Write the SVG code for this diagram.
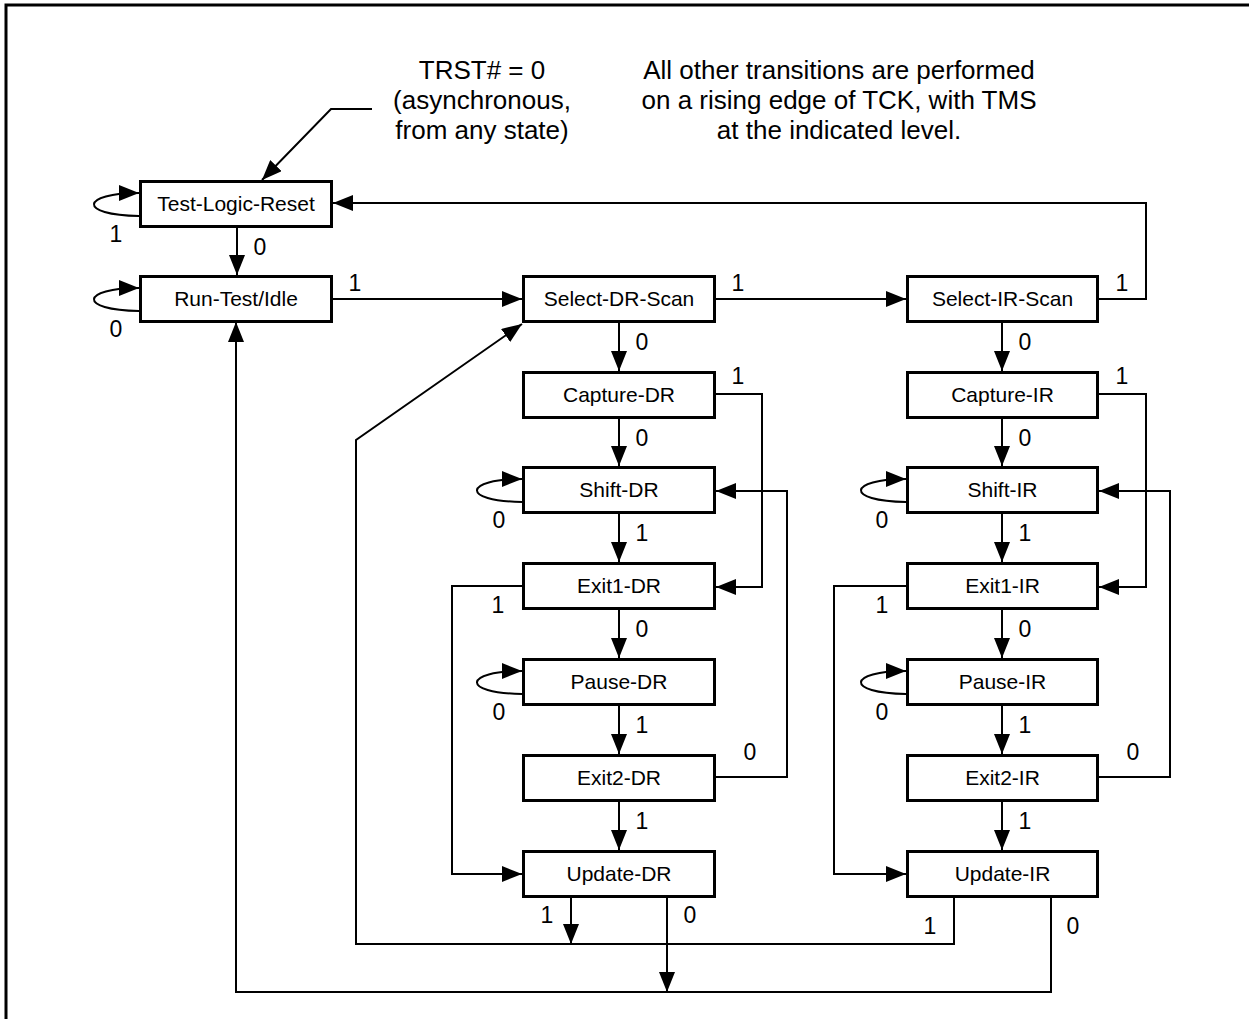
<svg xmlns="http://www.w3.org/2000/svg" width="1249" height="1019" viewBox="0 0 1249 1019">
<style>
.box{fill:#fff;stroke:#000;stroke-width:3}
.bt{font-family:"Liberation Sans",Arial,sans-serif;font-size:21px;text-anchor:middle;fill:#000}
.lb{font-family:"Liberation Sans",Arial,sans-serif;font-size:23px;text-anchor:middle;fill:#000}
.an{font-family:"Liberation Sans",Arial,sans-serif;font-size:26px;text-anchor:middle;fill:#000}
.c{fill:none;stroke:#000;stroke-width:2}
.a{marker-end:url(#ah)}
</style>
<defs>
<marker id="ah" markerUnits="userSpaceOnUse" markerWidth="20" markerHeight="16" refX="20" refY="8" orient="auto">
<path d="M0,0 L20,8 L0,16 Z" fill="#000"/>
</marker>
</defs>
<rect width="1249" height="1019" fill="#fff"/>
<path d="M6,1019 L6,5 L1249,5" fill="none" stroke="#000" stroke-width="3"/>

<g id="annotations">
<text class="an" x="482" y="79">TRST# = 0</text>
<text class="an" x="482" y="109">(asynchronous,</text>
<text class="an" x="482" y="139">from any state)</text>
<text class="an" x="839" y="79">All other transitions are performed</text>
<text class="an" x="839" y="109">on a rising edge of TCK, with TMS</text>
<text class="an" x="839" y="139">at the indicated level.</text>
</g>

<g id="connectors">
<path class="c a" d="M372,109 L331,109 L262,180"/>
<!-- self loops -->
<path class="c a" d="M139,216 C77,215 81,193 139,193"/>
<path class="c a" d="M139,311 C77,310 81,288 139,288"/>
<path class="c a" d="M522,502 C460,501 464,479 522,479"/>
<path class="c a" d="M522,694 C460,693 464,671 522,671"/>
<path class="c a" d="M906,502 C844,501 848,479 906,479"/>
<path class="c a" d="M906,694 C844,693 848,671 906,671"/>
<!-- TLR -> RTI -->
<path class="c a" d="M237,227 L237,275"/>
<!-- RTI -> Select-DR -->
<path class="c a" d="M333,299 L522,299"/>
<!-- Select-DR -> Select-IR -->
<path class="c a" d="M716,299 L906,299"/>
<!-- Select-IR -> TLR -->
<path class="c a" d="M1099,299 L1146,299 L1146,203 L333,203"/>
<!-- DR column verticals -->
<path class="c a" d="M619,323 L619,371"/>
<path class="c a" d="M619,419 L619,466"/>
<path class="c a" d="M619,514 L619,562"/>
<path class="c a" d="M619,610 L619,658"/>
<path class="c a" d="M619,706 L619,754"/>
<path class="c a" d="M619,802 L619,850"/>
<!-- IR column verticals -->
<path class="c a" d="M1002,323 L1002,371"/>
<path class="c a" d="M1002,419 L1002,466"/>
<path class="c a" d="M1002,514 L1002,562"/>
<path class="c a" d="M1002,610 L1002,658"/>
<path class="c a" d="M1002,706 L1002,754"/>
<path class="c a" d="M1002,802 L1002,850"/>
<!-- Capture -> Exit1 (1) -->
<path class="c a" d="M716,394 L762,394 L762,587 L716,587"/>
<path class="c a" d="M1099,394 L1146,394 L1146,587 L1099,587"/>
<!-- Exit2 -> Shift (0) -->
<path class="c a" d="M716,777 L787,777 L787,491 L716,491"/>
<path class="c a" d="M1099,777 L1170,777 L1170,491 L1099,491"/>
<!-- Exit1 -> Update (1) -->
<path class="c a" d="M522,586 L452,586 L452,874 L522,874"/>
<path class="c a" d="M906,586 L834,586 L834,874 L906,874"/>
<!-- Update -> Select-DR (1) -->
<path class="c a" d="M954,898 L954,944 L356,944 L356,440 L522,324"/>
<path class="c a" d="M571,898 L571,944"/>
<!-- Update -> RTI (0) -->
<path class="c a" d="M1051,898 L1051,992 L236,992 L236,322"/>
<path class="c a" d="M667,898 L667,992"/>
</g>

<g id="labels">
<text class="lb" x="116" y="242">1</text>
<text class="lb" x="260" y="255">0</text>
<text class="lb" x="116" y="337">0</text>
<text class="lb" x="355" y="291">1</text>
<text class="lb" x="738" y="291">1</text>
<text class="lb" x="1122" y="291">1</text>
<text class="lb" x="642" y="350">0</text>
<text class="lb" x="738" y="384">1</text>
<text class="lb" x="642" y="446">0</text>
<text class="lb" x="499" y="528">0</text>
<text class="lb" x="642" y="541">1</text>
<text class="lb" x="498" y="613">1</text>
<text class="lb" x="642" y="637">0</text>
<text class="lb" x="499" y="720">0</text>
<text class="lb" x="642" y="733">1</text>
<text class="lb" x="750" y="760">0</text>
<text class="lb" x="642" y="829">1</text>
<text class="lb" x="547" y="923">1</text>
<text class="lb" x="690" y="923">0</text>
<text class="lb" x="1025" y="350">0</text>
<text class="lb" x="1122" y="384">1</text>
<text class="lb" x="1025" y="446">0</text>
<text class="lb" x="882" y="528">0</text>
<text class="lb" x="1025" y="541">1</text>
<text class="lb" x="882" y="613">1</text>
<text class="lb" x="1025" y="637">0</text>
<text class="lb" x="882" y="720">0</text>
<text class="lb" x="1025" y="733">1</text>
<text class="lb" x="1133" y="760">0</text>
<text class="lb" x="1025" y="829">1</text>
<text class="lb" x="930" y="934">1</text>
<text class="lb" x="1073" y="934">0</text>
</g>

<g id="test-logic-reset"><rect class="box" x="140.5" y="181.5" width="191" height="45"/><text class="bt" x="236" y="211">Test-Logic-Reset</text></g>
<g id="run-test-idle"><rect class="box" x="140.5" y="276.5" width="191" height="45"/><text class="bt" x="236" y="306">Run-Test/Idle</text></g>
<g id="select-dr-scan"><rect class="box" x="523.5" y="276.5" width="191" height="45"/><text class="bt" x="619" y="306">Select-DR-Scan</text></g>
<g id="capture-dr"><rect class="box" x="523.5" y="372.5" width="191" height="45"/><text class="bt" x="619" y="402">Capture-DR</text></g>
<g id="shift-dr"><rect class="box" x="523.5" y="467.5" width="191" height="45"/><text class="bt" x="619" y="497">Shift-DR</text></g>
<g id="exit1-dr"><rect class="box" x="523.5" y="563.5" width="191" height="45"/><text class="bt" x="619" y="593">Exit1-DR</text></g>
<g id="pause-dr"><rect class="box" x="523.5" y="659.5" width="191" height="45"/><text class="bt" x="619" y="689">Pause-DR</text></g>
<g id="exit2-dr"><rect class="box" x="523.5" y="755.5" width="191" height="45"/><text class="bt" x="619" y="785">Exit2-DR</text></g>
<g id="update-dr"><rect class="box" x="523.5" y="851.5" width="191" height="45"/><text class="bt" x="619" y="881">Update-DR</text></g>
<g id="select-ir-scan"><rect class="box" x="907.5" y="276.5" width="190" height="45"/><text class="bt" x="1002.5" y="306">Select-IR-Scan</text></g>
<g id="capture-ir"><rect class="box" x="907.5" y="372.5" width="190" height="45"/><text class="bt" x="1002.5" y="402">Capture-IR</text></g>
<g id="shift-ir"><rect class="box" x="907.5" y="467.5" width="190" height="45"/><text class="bt" x="1002.5" y="497">Shift-IR</text></g>
<g id="exit1-ir"><rect class="box" x="907.5" y="563.5" width="190" height="45"/><text class="bt" x="1002.5" y="593">Exit1-IR</text></g>
<g id="pause-ir"><rect class="box" x="907.5" y="659.5" width="190" height="45"/><text class="bt" x="1002.5" y="689">Pause-IR</text></g>
<g id="exit2-ir"><rect class="box" x="907.5" y="755.5" width="190" height="45"/><text class="bt" x="1002.5" y="785">Exit2-IR</text></g>
<g id="update-ir"><rect class="box" x="907.5" y="851.5" width="190" height="45"/><text class="bt" x="1002.5" y="881">Update-IR</text></g>
</svg>
